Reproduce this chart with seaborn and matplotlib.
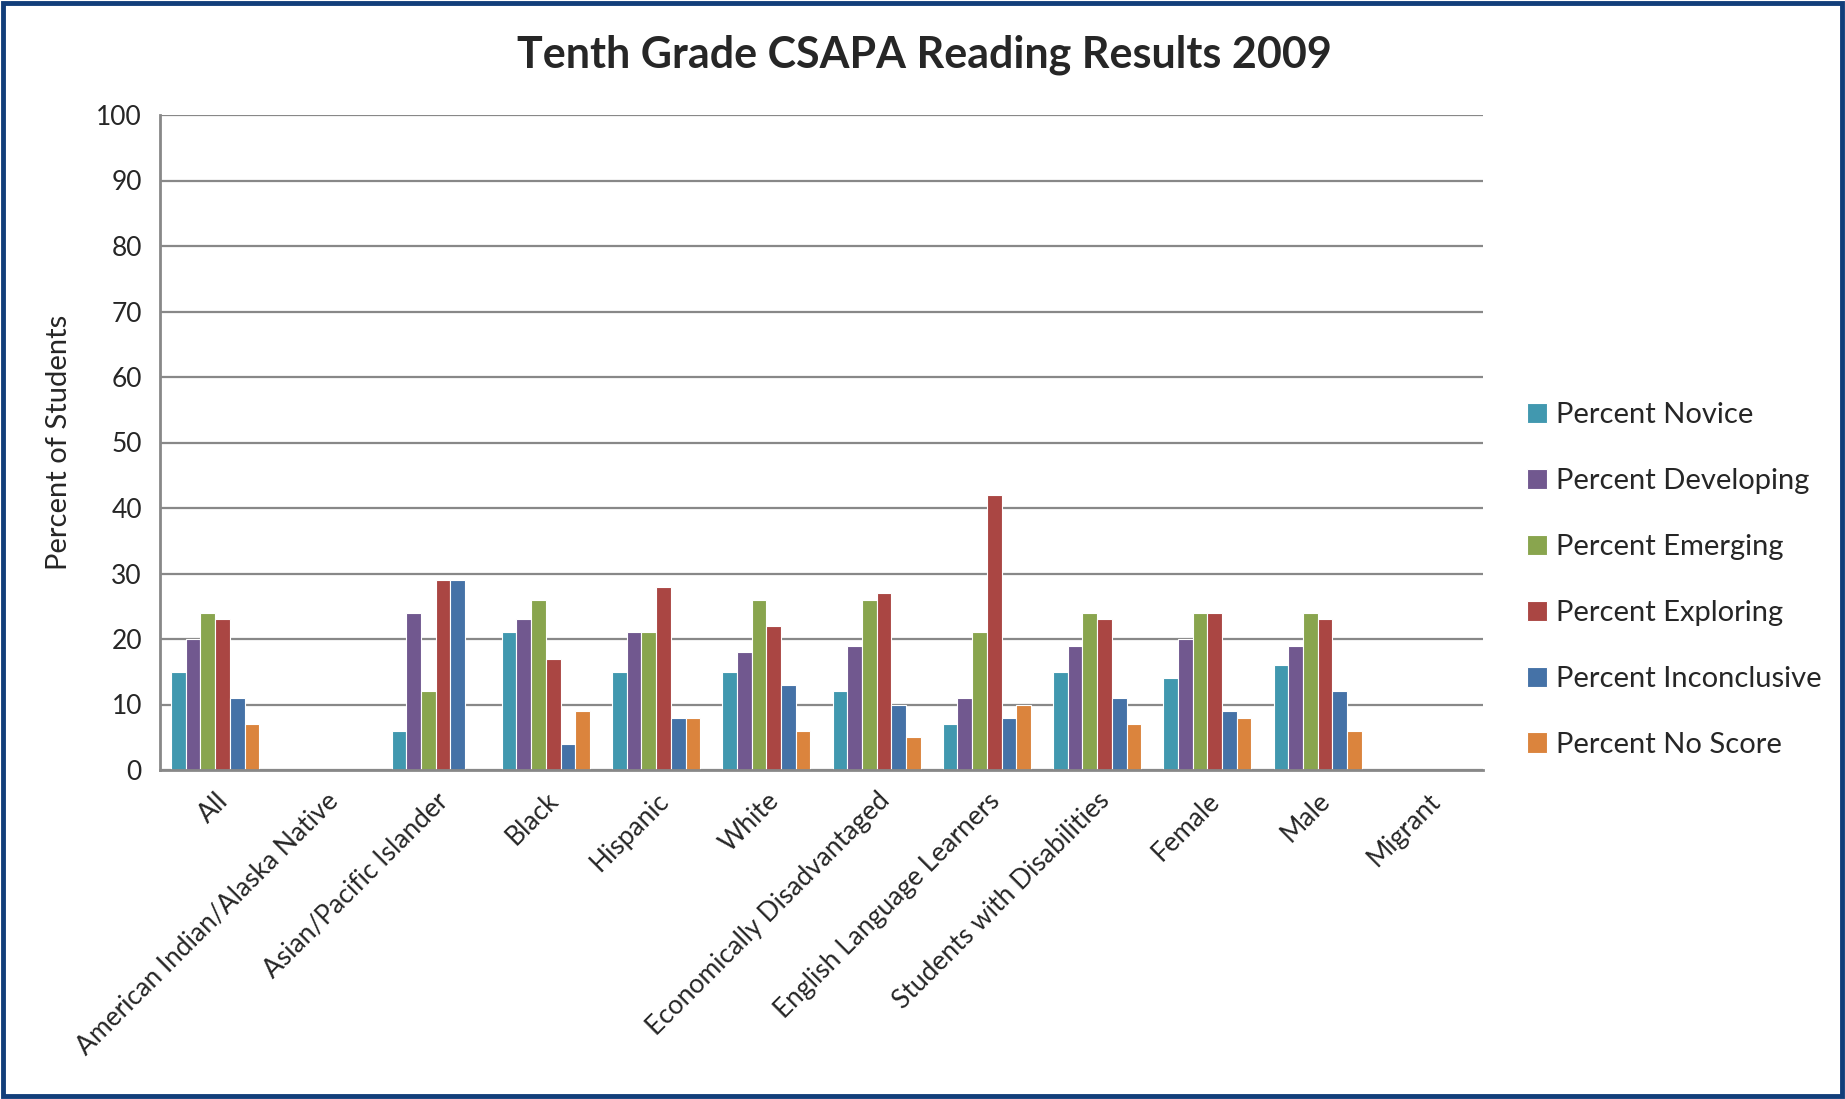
import matplotlib
matplotlib.use("Agg")
import matplotlib.pyplot as plt
import seaborn as sns
import pandas as pd
from matplotlib.patches import Rectangle

# Student groups on the x axis
groups = [
    "All",
    "American Indian/Alaska Native",
    "Asian/Pacific Islander",
    "Black",
    "Hispanic",
    "White",
    "Economically Disadvantaged",
    "English Language Learners",
    "Students with Disabilities",
    "Female",
    "Male",
    "Migrant",
]

# Performance levels (legend entries)
levels = [
    "Percent Novice",
    "Percent Developing",
    "Percent Emerging",
    "Percent Exploring",
    "Percent Inconclusive",
    "Percent No Score",
]

# Percent of students per level, one list per group order above
novice       = [15, 0,  6, 21, 15, 15, 12,  7, 15, 14, 16, 0]
developing   = [20, 0, 24, 23, 21, 18, 19, 11, 19, 20, 19, 0]
emerging     = [24, 0, 12, 26, 21, 26, 26, 21, 24, 24, 24, 0]
exploring    = [23, 0, 29, 17, 28, 22, 27, 42, 23, 24, 23, 0]
inconclusive = [11, 0, 29,  4,  8, 13, 10,  8, 11,  9, 12, 0]
no_score     = [ 7, 0,  0,  9,  8,  6,  5, 10,  7,  8,  6, 0]

colors = ["#4198AF", "#71588F", "#89A54E", "#AA4643", "#4572A7", "#DB843D"]

series = [novice, developing, emerging, exploring, inconclusive, no_score]
rows = []
for lvl, vals in zip(levels, series):
    for g, v in zip(groups, vals):
        rows.append({"group": g, "level": lvl, "value": v})
df = pd.DataFrame(rows)

sns.set_style("white")
plt.rcParams["font.family"] = ["Lato", "DejaVu Sans"]

W, H = 1845, 1099
fig = plt.figure(figsize=(W / 100, H / 100), dpi=100)
fig.patch.set_facecolor("white")
ax = fig.add_axes([160 / W, 1 - 770 / H, (1483 - 160) / W, (770 - 115) / H])

sns.barplot(
    data=df, x="group", y="value", hue="level",
    order=groups, hue_order=levels, palette=colors,
    saturation=1, width=0.8, edgecolor="white", linewidth=0.8, ax=ax,
)

ax.set_ylim(0, 100)
ax.set_yticks(range(0, 101, 10))
ax.set_xlim(-0.5, len(groups) - 0.5)
ax.yaxis.grid(True, color="#888888", linewidth=1.6)
ax.set_axisbelow(True)
for side in ("top", "right"):
    ax.spines[side].set_visible(False)
for side in ("left", "bottom"):
    ax.spines[side].set_color("#888888")
    ax.spines[side].set_linewidth(2)

ax.tick_params(axis="y", length=0, pad=13, labelsize=19)
ax.tick_params(axis="x", length=0, pad=13, labelsize=19)
ax.set_xlabel("")
ax.set_ylabel("")
ax.set_xticks(range(len(groups)))
ax.set_xticklabels(groups, rotation=45, ha="right", rotation_mode="anchor")

fig.text(59 / W, 1 - 442 / H, "Percent of Students", rotation=90,
         ha="center", va="center", fontsize=21)
fig.text(924 / W, 1 - 55 / H, "Tenth Grade CSAPA Reading Results 2009",
         ha="center", va="center", fontsize=31, fontweight="bold")

handles, labels = ax.get_legend_handles_labels()
ax.legend(
    handles, labels, loc="center left",
    bbox_to_anchor=(1515 / W, 1 - 580 / H), bbox_transform=fig.transFigure,
    frameon=False, fontsize=21, handlelength=0.7, handleheight=0.7,
    handletextpad=0.3, labelspacing=1.37, borderaxespad=0,
)

# Navy frame around the whole chart
fig.patches.append(Rectangle((0.0015, 0.0025), 0.997, 0.995,
                             transform=fig.transFigure, fill=False,
                             edgecolor="#123E7A", linewidth=3.5))

fig.savefig("out.png", dpi=100)
